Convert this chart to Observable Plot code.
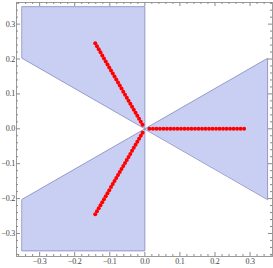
<!DOCTYPE html>
<html>
<head>
<meta charset="utf-8">
<script src="https://cdn.jsdelivr.net/npm/d3@7"></script>
<script src="https://cdn.jsdelivr.net/npm/@observablehq/plot@0.6"></script>
<style>
  html, body { margin: 0; padding: 0; background: #fff; }
  #chart svg { display: block; }
  #chart svg [aria-label="y-axis tick label"] text,
  #chart svg [aria-label="x-axis tick label"] text { letter-spacing: -0.25px; }
</style>
</head>
<body>
<div id="chart"></div>
<script>
// Region polygons (vertices of the three shaded sectors)
const upperLeftX = [-0.35, 0, 0, -0.35];
const upperLeftY = [0.35, 0.35, 0, 0.2021];
const lowerLeftX = [-0.35, 0, 0, -0.35];
const lowerLeftY = [-0.35, -0.35, 0, -0.2021];
const rightX = [0, 0.35, 0.35];
const rightY = [0, 0.2021, -0.2021];

// Red points: radii along three rays at these angles (degrees)
const rayAngles = [0, 120, 240];
const radii = [0.013, 0.023, 0.033, 0.043, 0.053, 0.063, 0.073, 0.083, 0.093, 0.103,
               0.113, 0.123, 0.133, 0.143, 0.153, 0.163, 0.173, 0.183, 0.193, 0.203,
               0.213, 0.223, 0.233, 0.243, 0.253, 0.263, 0.273, 0.283];

// Tick values
const majorTicks = [-0.3, -0.2, -0.1, 0, 0.1, 0.2, 0.3];
const minorTicks = [-0.36, -0.34, -0.32, -0.28, -0.26, -0.24, -0.22, -0.18, -0.16, -0.14, -0.12,
                    -0.08, -0.06, -0.04, -0.02, 0.02, 0.04, 0.06, 0.08, 0.12, 0.14, 0.16, 0.18,
                    0.22, 0.24, 0.26, 0.28, 0.32, 0.34, 0.36];

const regions = [];
upperLeftX.forEach((x, i) => regions.push({region: "ul", x, y: upperLeftY[i]}));
lowerLeftX.forEach((x, i) => regions.push({region: "ll", x, y: lowerLeftY[i]}));
rightX.forEach((x, i) => regions.push({region: "r", x, y: rightY[i]}));

const points = [];
rayAngles.forEach(a => radii.forEach(r => points.push({
  x: r * Math.cos(a * Math.PI / 180),
  y: r * Math.sin(a * Math.PI / 180)
})));

const width = 273, height = 268;
const mL = 16, mR = 1, mT = 2, mB = 12;
const W = width - mL - mR, H = height - mT - mB;
const majLen = 4, minLen = 2;
const tickColor = "#8a8a8a";
const inMinor = minorTicks.filter(d => d > -0.366 && d < 0.362);

const plot = Plot.plot({
  width, height,
  marginLeft: mL, marginRight: mR, marginTop: mT, marginBottom: mB,
  x: {domain: [-0.366, 0.364], axis: null, label: null},
  y: {domain: [-0.366, 0.362], axis: null, label: null},
  style: {fontFamily: "Liberation Serif", fontSize: "8px", color: "#444", background: "#fff"},
  marks: [
    Plot.line(regions, {x: "x", y: "y", z: "region", curve: "linear-closed",
      fill: "#c9cff2", stroke: "#8c93c6", strokeWidth: 0.9}),
    Plot.dot(points, {x: "x", y: "y", r: 2, fill: "#ff0000", stroke: "none"}),
    Plot.frame({stroke: "#9a9a9a"}),
    // bottom ticks
    Plot.tickX(majorTicks, {x: d => d, insetTop: H - majLen, stroke: tickColor}),
    Plot.tickX(inMinor, {x: d => d, insetTop: H - minLen, stroke: tickColor}),
    // top ticks
    Plot.tickX(majorTicks, {x: d => d, insetBottom: H - majLen, stroke: tickColor}),
    Plot.tickX(inMinor, {x: d => d, insetBottom: H - minLen, stroke: tickColor}),
    // left ticks
    Plot.tickY(majorTicks, {y: d => d, insetRight: W - majLen, stroke: tickColor}),
    Plot.tickY(inMinor, {y: d => d, insetRight: W - minLen, stroke: tickColor}),
    // right ticks
    Plot.tickY(majorTicks, {y: d => d, insetLeft: W - majLen, stroke: tickColor}),
    Plot.tickY(inMinor, {y: d => d, insetLeft: W - minLen, stroke: tickColor}),
    Plot.axisX(majorTicks, {anchor: "bottom", tickSize: 0, tickPadding: 2, label: null,
      tickFormat: d3.format(".1f"), fill: "#444"}),
    Plot.axisY(majorTicks, {anchor: "left", tickSize: 0, tickPadding: 1.5, label: null,
      tickFormat: d3.format(".1f"), fill: "#444"})
  ]
});
document.getElementById("chart").appendChild(plot);
</script>
</body>
</html>
